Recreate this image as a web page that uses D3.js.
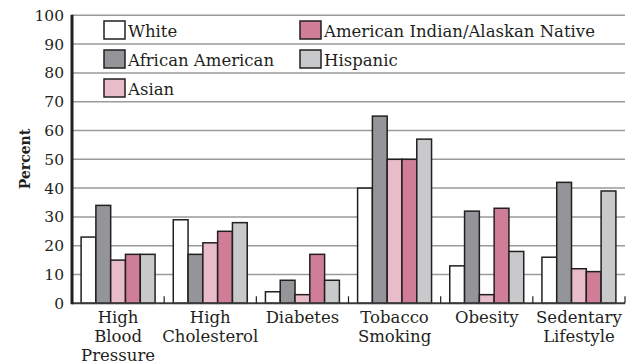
<!DOCTYPE html>
<html><head><meta charset="utf-8">
<script src="https://cdn.jsdelivr.net/npm/d3@7"></script>
<style>body{margin:0;background:#fff}svg{display:block}text{font-family:"DejaVu Serif",serif;fill:#231f20}</style>
</head><body><svg id="c" width="626" height="364"></svg>
<script>
const categories = [["High","Blood","Pressure"],["High","Cholesterol"],["Diabetes"],["Tobacco","Smoking"],["Obesity"],["Sedentary","Lifestyle"]];
const seriesNames = ["White","African American","Asian","American Indian/Alaskan Native","Hispanic"];
const seriesColors = ["#ffffff","#939598","#e8bcc8","#d07e98","#c8c9cb"];
const white    = [23,29,4,40,13,16];
const african  = [34,17,8,65,32,42];
const asian    = [15,21,3,50,3,12];
const aian     = [17,25,17,50,33,11];
const hispanic = [17,28,8,57,18,39];
const yTicks = [0,10,20,30,40,50,60,70,80,90,100];
const values = [white, african, asian, aian, hispanic];

const svg = d3.select("#c");
const catKeys = categories.map(c=>c.join(" "));
const x = d3.scaleBand().domain(catKeys).range([72,625]);
const xs = d3.scaleBand().domain(seriesNames).range([0,x.bandwidth()]).paddingOuter(0.615);
const y = d3.scaleLinear().domain([0,100]).range([303.3,15.3]);

// gridlines
svg.append("g").selectAll("line").data(yTicks.slice(1)).join("line")
  .attr("x1",72).attr("x2",625).attr("y1",d=>y(d)).attr("y2",d=>y(d))
  .attr("stroke","#9a9a9a").attr("stroke-width",1.5);

// y tick labels
svg.append("g").selectAll("text").data(yTicks).join("text")
  .attr("x",64).attr("y",d=>y(d)+5.5).attr("text-anchor","end")
  .style("font-size","15.5px").text(d=>d);

// bars
const g = svg.append("g");
catKeys.forEach((c,i)=>{
  seriesNames.forEach((s,j)=>{
    g.append("rect").attr("x",x(c)+xs(s)).attr("width",xs.bandwidth())
      .attr("y",y(values[j][i])).attr("height",y(0)-y(values[j][i]))
      .attr("fill",seriesColors[j]).attr("stroke","#231f20").attr("stroke-width",1.5);
  });
});

// x axis line
svg.append("line").attr("x1",72).attr("x2",625).attr("y1",y(0)).attr("y2",y(0)).attr("stroke","#3a3a3a").attr("stroke-width",2);
// category ticks
svg.append("g").selectAll("line").data(catKeys).join("line")
  .attr("x1",d=>x(d)+x.bandwidth()).attr("x2",d=>x(d)+x.bandwidth())
  .attr("y1",y(0)-7).attr("y2",y(0)).attr("stroke","#231f20").attr("stroke-width",1.2);
// y axis
svg.append("line").attr("x1",72).attr("x2",72).attr("y1",y(100)-0.5).attr("y2",y(0)+1).attr("stroke","#231f20").attr("stroke-width",3);

// x labels
categories.forEach((lines,i)=>{
  const t = svg.append("text").attr("text-anchor","middle").style("font-size","16.5px");
  lines.forEach((l,k)=>{
    t.append("tspan").attr("x",x(catKeys[i])+x.bandwidth()/2).attr("y",322.5+k*19).text(l);
  });
});

// y title
svg.append("text").attr("transform","translate(30,159) rotate(-90)").attr("text-anchor","middle")
  .style("font-size","14px").style("font-weight","bold").text("Percent");

// legend
const legPos = [[104,21],[104,50],[104,79],[300,21],[300,50]];
seriesNames.forEach((s,j)=>{
  const [lx,ly] = legPos[j];
  svg.append("rect").attr("x",lx).attr("y",ly).attr("width",21).attr("height",18)
    .attr("fill",seriesColors[j]).attr("stroke","#231f20").attr("stroke-width",1.5);
  svg.append("text").attr("x",lx+24).attr("y",ly+15.5).style("font-size","16.5px").text(s);
});
</script></body></html>
